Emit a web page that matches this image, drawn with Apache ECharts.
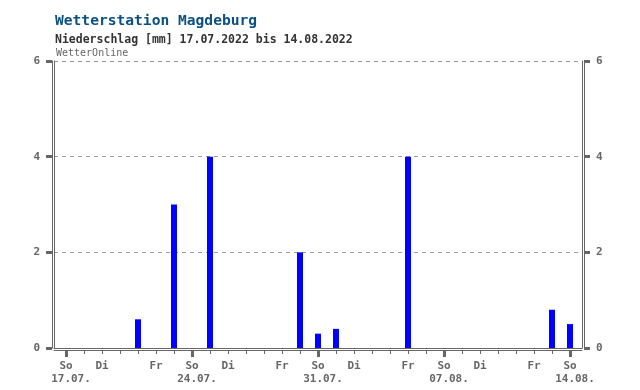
<!DOCTYPE html>
<html><head><meta charset="utf-8">
<script src="https://cdn.jsdelivr.net/npm/echarts@6/dist/echarts.min.js"></script>
<style>html,body{margin:0;padding:0;background:#fff}#c{width:640px;height:390px}</style>
</head><body><div id="c"></div>
<script>
const dates = ['17.07.','18.07.','19.07.','20.07.','21.07.','22.07.','23.07.','24.07.','25.07.','26.07.','27.07.','28.07.','29.07.','30.07.','31.07.','01.08.','02.08.','03.08.','04.08.','05.08.','06.08.','07.08.','08.08.','09.08.','10.08.','11.08.','12.08.','13.08.','14.08.'];
const weekdays = ['So','Mo','Di','Mi','Do','Fr','Sa'];
const precip = [0,0,0,0,0.6,0,3,0,4,0,0,0,0,2,0.3,0.4,0,0,0,4,0,0,0,0,0,0,0,0.8,0.5];
const labelDays = [0,2,5,7,9,12,14,16,19,21,23,26,28];
const sundays = [0,7,14,21,28];

const FONT = '"DejaVu Sans Mono", "Liberation Mono", monospace';
const GRAY = '#666';
const allDays = dates.map((d,i)=>i);
const xMin = -2/3, xMax = dates.length - 1 + 2/3;

const chart = echarts.init(document.getElementById('c'));
const lineOn = {show:true, onZero:false, lineStyle:{color:GRAY, width:1}};
const lineOff = {show:false, onZero:false};
const baseX = {type:'value', min:xMin, max:xMax, position:'bottom', splitLine:{show:false}, axisLabel:{show:false}, axisTick:{show:false}, axisLine:lineOff};
const baseY = {type:'value', min:0, max:6, interval:2, splitLine:{show:false}, axisLabel:{show:false}, axisTick:{show:false}, axisLine:lineOn};
const yLab = {show:true, margin:12, fontFamily:FONT, fontSize:11, fontWeight:'bold', color:GRAY};
const yTick = {show:true, length:6, lineStyle:{color:GRAY, width:3}};
const xLab = {show:true, fontFamily:FONT, fontSize:11, fontWeight:'bold', color:GRAY, verticalAlign:'top'};
chart.setOption({
  animation:false,
  title:[
    {text:'Wetterstation Magdeburg', left:50, top:9, textStyle:{fontFamily:FONT, fontSize:14.6, fontWeight:'bold', color:'#0a5082'}},
    {text:'Niederschlag [mm] 17.07.2022 bis 14.08.2022', left:50, top:29, textStyle:{fontFamily:FONT, fontSize:11.5, fontWeight:'bold', color:'#333'}},
    {text:'WetterOnline', left:51, top:43, textStyle:{fontFamily:FONT, fontSize:10, fontWeight:'normal', color:GRAY}}
  ],
  grid:{left:54, right:58, top:61, bottom:42},
  xAxis:[
    Object.assign({}, baseX, {axisLine:lineOn}),
    Object.assign({}, baseX, {offset:2, axisLine:lineOn}),
    Object.assign({}, baseX, {offset:2,
      axisTick:{show:true, inside:false, customValues:sundays, length:7, lineStyle:{color:GRAY, width:3}}}),
    Object.assign({}, baseX, {offset:2,
      axisLabel:Object.assign({}, xLab, {customValues:labelDays, margin:11,
        formatter:function(v){ return weekdays[Math.round(v)%7]; }})}),
    Object.assign({}, baseX, {offset:2,
      axisLabel:Object.assign({}, xLab, {customValues:sundays, margin:24, padding:[0,0,0,10],
        formatter:function(v){ return dates[Math.round(v)]; }})})
  ],
  yAxis:[
    Object.assign({}, baseY, {position:'left', offset:0, splitLine:{show:true, lineStyle:{color:'#999', type:[4,4], width:1}}}),
    Object.assign({}, baseY, {position:'left', offset:2, axisTick:yTick, axisLabel:yLab}),
    Object.assign({}, baseY, {position:'right', offset:0}),
    Object.assign({}, baseY, {position:'right', offset:2, axisTick:yTick, axisLabel:yLab})
  ],
  series:[{
    type:'bar', xAxisIndex:0, yAxisIndex:0, barWidth:6,
    itemStyle:{color:'#0000ff'},
    data: precip.map((v,i)=>[i,v])
  },{
    type:'custom', xAxisIndex:0, yAxisIndex:0, clip:false, silent:true,
    data: allDays.map(d=>[d,0]),
    renderItem:function(params, api){
      const p = api.coord([api.value(0), 0]);
      const x = Math.round(p[0]) + 0.5;
      const y = Math.round(p[1]) + 2;
      return {type:'line', shape:{x1:x, y1:y, x2:x, y2:y+4}, style:{stroke:GRAY, lineWidth:1}};
    }
  }]
});
</script></body></html>
